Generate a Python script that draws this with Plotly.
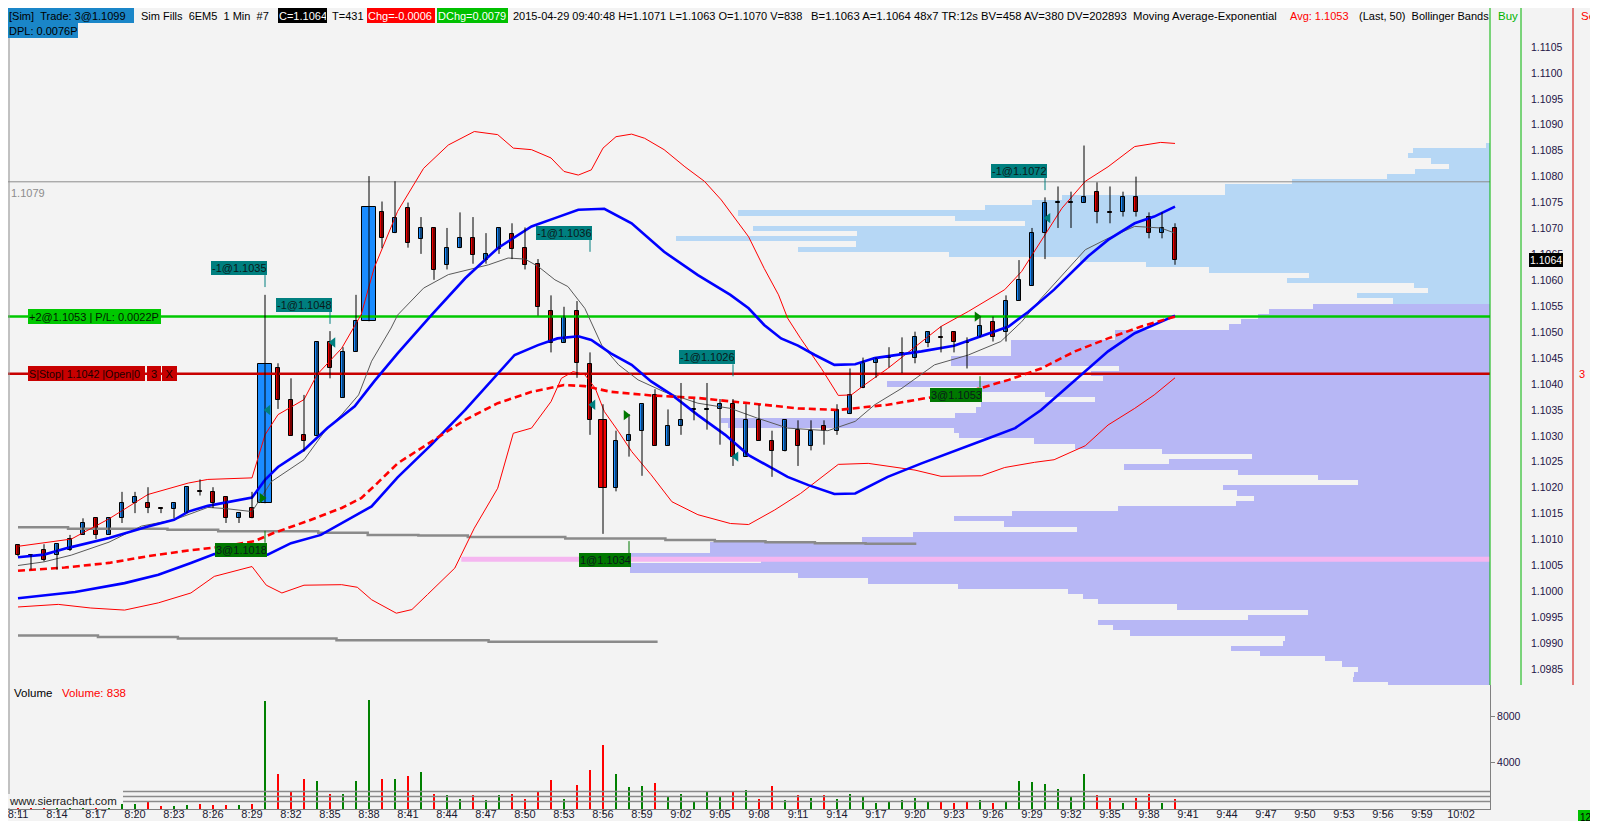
import pandas as pd
import plotly.graph_objects as go

W, H = 1598, 821
FONT = "Liberation Sans"

# ---------------- data ----------------
bar_start = "2015-04-29 08:11:00"

opens = [1.10090, 1.10071, 1.10080, 1.10071, 1.10080, 1.10109, 1.10141, 1.10109, 1.10141, 1.10170,
         1.10170, 1.10161, 1.10159, 1.10151, 1.10193, 1.10192, 1.10182, 1.10141, 1.10161, 1.10170,
         1.10431, 1.10370, 1.10301, 1.10300, 1.10481, 1.10373, 1.10462, 1.10521, 1.10731, 1.10691,
         1.10740, 1.10680, 1.10701, 1.10630, 1.10662, 1.10681, 1.10639, 1.10660, 1.10690, 1.10662,
         1.10631, 1.10540, 1.10480, 1.10540, 1.10439, 1.10330, 1.10200, 1.10291, 1.10310, 1.10379,
         1.10281, 1.10320, 1.10350, 1.10350, 1.10351, 1.10361, 1.10260, 1.10330, 1.10291, 1.10270,
         1.10312, 1.10281, 1.10320, 1.10310, 1.10342, 1.10392, 1.10440, 1.10450, 1.10458, 1.10451,
         1.10479, 1.10491, 1.10501, 1.10481, 1.10490, 1.10520, 1.10501, 1.10561, 1.10590, 1.10691,
         1.10749, 1.10749, 1.10750, 1.10771, 1.10732, 1.10731, 1.10760, 1.10722, 1.10691, 1.10700]
highs = [1.10091, 1.10071, 1.10091, 1.10091, 1.10109, 1.10141, 1.10141, 1.10141, 1.10192, 1.10192,
         1.10201, 1.10161, 1.10170, 1.10201, 1.10216, 1.10201, 1.10182, 1.10151, 1.10192, 1.10572,
         1.10440, 1.10411, 1.10379, 1.10481, 1.10502, 1.10471, 1.10572, 1.10801, 1.10752, 1.10791,
         1.10750, 1.10722, 1.10701, 1.10701, 1.10731, 1.10722, 1.10691, 1.10702, 1.10710, 1.10702,
         1.10641, 1.10571, 1.10549, 1.10560, 1.10461, 1.10361, 1.10310, 1.10342, 1.10361, 1.10390,
         1.10351, 1.10402, 1.10371, 1.10402, 1.10371, 1.10371, 1.10361, 1.10360, 1.10310, 1.10330,
         1.10330, 1.10330, 1.10330, 1.10361, 1.10430, 1.10451, 1.10451, 1.10471, 1.10490, 1.10501,
         1.10501, 1.10511, 1.10501, 1.10490, 1.10530, 1.10530, 1.10571, 1.10639, 1.10701, 1.10760,
         1.10781, 1.10771, 1.10860, 1.10789, 1.10781, 1.10771, 1.10800, 1.10731, 1.10731, 1.10710]
lows = [1.10068, 1.10042, 1.10058, 1.10042, 1.10078, 1.10109, 1.10101, 1.10109, 1.10132, 1.10151,
        1.10151, 1.10151, 1.10141, 1.10151, 1.10185, 1.10161, 1.10132, 1.10132, 1.10141, 1.10170,
        1.10352, 1.10300, 1.10270, 1.10300, 1.10411, 1.10373, 1.10462, 1.10521, 1.10662, 1.10691,
        1.10663, 1.10651, 1.10601, 1.10621, 1.10662, 1.10632, 1.10632, 1.10651, 1.10641, 1.10621,
        1.10532, 1.10461, 1.10480, 1.10412, 1.10302, 1.10111, 1.10193, 1.10260, 1.10223, 1.10281,
        1.10281, 1.10302, 1.10330, 1.10312, 1.10283, 1.10242, 1.10260, 1.10291, 1.10221, 1.10270,
        1.10242, 1.10272, 1.10283, 1.10302, 1.10342, 1.10392, 1.10412, 1.10432, 1.10421, 1.10440,
        1.10471, 1.10461, 1.10461, 1.10430, 1.10490, 1.10482, 1.10482, 1.10561, 1.10590, 1.10641,
        1.10701, 1.10701, 1.10750, 1.10710, 1.10710, 1.10723, 1.10723, 1.10681, 1.10681, 1.10630]
closes = [1.10071, 1.10070, 1.10061, 1.10091, 1.10101, 1.10132, 1.10109, 1.10141, 1.10170, 1.10182,
          1.10161, 1.10159, 1.10170, 1.10201, 1.10191, 1.10170, 1.10141, 1.10151, 1.10141, 1.10439,
          1.10370, 1.10300, 1.10291, 1.10481, 1.10431, 1.10462, 1.10521, 1.10741, 1.10682, 1.10721,
          1.10672, 1.10701, 1.10620, 1.10662, 1.10681, 1.10649, 1.10651, 1.10701, 1.10661, 1.10630,
          1.10548, 1.10479, 1.10530, 1.10440, 1.10330, 1.10200, 1.10291, 1.10301, 1.10361, 1.10281,
          1.10320, 1.10330, 1.10352, 1.10352, 1.10361, 1.10260, 1.10330, 1.10291, 1.10270, 1.10330,
          1.10281, 1.10310, 1.10310, 1.10350, 1.10379, 1.10440, 1.10450, 1.10452, 1.10460, 1.10490,
          1.10501, 1.10489, 1.10482, 1.10479, 1.10511, 1.10490, 1.10561, 1.10600, 1.10691, 1.10750,
          1.10751, 1.10751, 1.10760, 1.10731, 1.10730, 1.10760, 1.10731, 1.10691, 1.10701, 1.10640]
volumes = [320, 260, 410, 350, 300, 420, 380, 300, 435, 435,
           580, 203, 203, 290, 377, 290, 290, 290, 377, 9338,
           2958, 1450, 2523, 2349, 1247, 1247, 2349, 9425, 2552, 2552,
           2813, 3132, 1305, 1160, 870, 1160, 783, 1160, 1247, 812,
           1450, 2465, 870, 2030, 3335, 5510, 2958, 1827, 1943, 2175,
           1015, 1305, 580, 1450, 1015, 1450, 1595, 870, 1943, 725,
           1160, 957, 1218, 870, 1305, 1131, 522, 696, 783, 957,
           696, 696, 522, 696, 783, 522, 667, 2349, 2262, 2088,
           1653, 1131, 2958, 1218, 957, 522, 957, 1305, 522, 838]

# indicator lines: (minutes after 08:11, price)
bb_up_min = [0, 4.1, 7, 10, 13.1, 14.6, 18, 19, 20, 22, 23, 24.9, 26.4, 27.4, 29.2, 31.2, 33.1, 35.1,
             36.9, 38.1, 39.5, 41, 42, 43.1, 44.1, 45, 46, 47.2, 48.2, 49.7, 51.3, 52.8, 54.1, 56.2,
             57.4, 58.5, 59.2, 60.2, 61.8, 63.1, 64.1, 65.1, 66.9, 69, 71, 73.1, 74.6, 75.9, 77.2,
             78.2, 79.2, 80.3, 82.1, 83.85, 85.9, 87.9, 89]
bb_up = [1.10087, 1.10101, 1.10140, 1.10187, 1.10209, 1.10216, 1.10219, 1.10302, 1.10341, 1.10370,
         1.10418, 1.10469, 1.10534, 1.10624, 1.10733, 1.10816, 1.10861, 1.10887, 1.10881, 1.10855,
         1.10852, 1.10836, 1.10810, 1.10803, 1.10813, 1.10855, 1.10877, 1.10882, 1.10874, 1.10852,
         1.10819, 1.10791, 1.10755, 1.10684, 1.10623, 1.10572, 1.10527, 1.10488, 1.10430, 1.10378,
         1.10379, 1.10398, 1.10430, 1.10472, 1.10511, 1.10540, 1.10562, 1.10582, 1.10617, 1.10656,
         1.10694, 1.10739, 1.10791, 1.10819, 1.10858, 1.10866, 1.10864]
bb_lo_min = [0, 3.1, 5.6, 8.2, 10.8, 13.3, 15.1, 18, 19.1, 20.3, 22, 24.9, 26.1, 27.2, 29.1, 30.3,
             31.5, 33.6, 35.1, 36.9, 38.1, 39.5, 41, 41.8, 42.7, 43.6, 44.4, 45.1, 46.2, 47.2, 48.7,
             50.3, 52.3, 54.8, 56.2, 58.2, 60.2, 63.1, 65.4, 66.9, 69, 71, 74.1, 75.9, 78.2, 79.7,
             82.1, 83.85, 85.9, 87.4, 89]
bb_lo = [1.09970, 1.09975, 1.09968, 1.09964, 1.09978, 1.09997, 1.10029, 1.10048, 1.10012, 1.09997,
         1.10012, 1.10013, 1.10008, 1.09984, 1.09958, 1.09965, 1.09994, 1.10045, 1.10122, 1.10199,
         1.10305, 1.10315, 1.10366, 1.10411, 1.10424, 1.10418, 1.10392, 1.10347, 1.10308, 1.10270,
         1.10225, 1.10173, 1.10148, 1.10131, 1.10129, 1.10157, 1.10189, 1.10245, 1.10247, 1.10241,
         1.10234, 1.10222, 1.10223, 1.10239, 1.10249, 1.10254, 1.10281, 1.10321, 1.10353, 1.10379,
         1.10412]
env_up_min = [0, 2, 3.85, 7, 10, 12, 13.1, 14.6, 18, 19, 20, 22, 23.8, 25.9, 27.4, 29.2, 31.8, 34.4,
              36.9, 39.5, 41.3, 43.1, 45.1, 47.2, 49.7, 52.3, 54.8, 56.2, 57.4, 58.7, 60, 61.3, 62.8,
              64.4, 65.9, 69.5, 72, 74.1, 76.2, 77.7, 79.7, 82.3, 83.85, 85.9, 87.4, 89]
env_up = [1.10066, 1.10071, 1.10084, 1.10103, 1.10125, 1.10138, 1.10154, 1.10165, 1.10181, 1.10215,
          1.10240, 1.10273, 1.10315, 1.10357, 1.10405, 1.10459, 1.10533, 1.10604, 1.10662, 1.10704,
          1.10720, 1.10736, 1.10738, 1.10710, 1.10655, 1.10610, 1.10572, 1.10546, 1.10514, 1.10488,
          1.10474, 1.10456, 1.10437, 1.10438, 1.10450, 1.10463, 1.10474, 1.10492, 1.10511, 1.10539,
          1.10582, 1.10646, 1.10678, 1.10710, 1.10723, 1.10742]
env_lo_min = [0, 4.4, 8.2, 10.8, 13.3, 15.1, 19.2, 21, 23.3, 24.9, 27.2, 29.2, 31.8, 34.4, 36.9, 38.2,
              40, 41.5, 43.1, 44.1, 45.6, 47.2, 48.7, 50.3, 52.3, 54.4, 56.2, 58, 59.2, 60.8, 62.8,
              64.4, 66.9, 69.5, 72, 74.6, 76.7, 78.7, 80.3, 82.1, 83.85, 85.9, 87.4, 89]
env_lo = [1.09987, 1.09999, 1.10016, 1.10032, 1.10055, 1.10072, 1.10071, 1.10093, 1.10109, 1.10132,
          1.10164, 1.10220, 1.10283, 1.10350, 1.10421, 1.10456, 1.10475, 1.10488, 1.10492, 1.10485,
          1.10459, 1.10437, 1.10405, 1.10379, 1.10340, 1.10302, 1.10263, 1.10238, 1.10221, 1.10205,
          1.10188, 1.10189, 1.10221, 1.10247, 1.10270, 1.10295, 1.10315, 1.10350, 1.10385, 1.10424,
          1.10463, 1.10498, 1.10515, 1.10532]
mid_min = [0, 3.6, 7, 10, 13.1, 15.9, 18.2, 19.7, 22.3, 24.9, 26.4, 27.4, 29.2, 31.8, 34.4, 36.9,
           39.5, 42, 43.6, 45.6, 48.7, 52.3, 54.8, 57.4, 60, 63.1, 66.9, 70, 73.6, 76.2, 78.7, 81.3,
           83.85, 86.4, 89]
mid = [1.10040, 1.10046, 1.10055, 1.10068, 1.10079, 1.10087, 1.10097, 1.10113, 1.10136, 1.10161,
       1.10180, 1.10203, 1.10247, 1.10289, 1.10331, 1.10363, 1.10385, 1.10398, 1.10396, 1.10385,
       1.10378, 1.10373, 1.10367, 1.10360, 1.10353, 1.10350, 1.10360, 1.10373, 1.10389, 1.10408,
       1.10430, 1.10463, 1.10488, 1.10511, 1.10530]
ema_min = [0, 2, 4.1, 7, 9.5, 12, 14.6, 15.9, 18, 18.7, 19.5, 22, 23.6, 24.9, 26.2, 27.2, 28.7, 29.2,
           31.2, 33.1, 34.6, 36.2, 37.7, 39, 40, 41.3, 42.3, 43.6, 44.9, 46.2, 47.7, 49.7, 52.3, 54.8,
           56.9, 59.2, 62.3, 64.4, 65.9, 68, 70.5, 73.1, 75.6, 77.2, 78.7, 80.3, 82.1, 83.85, 85.9,
           87.9, 89]
ema = [1.10050, 1.10057, 1.10070, 1.10095, 1.10126, 1.10138, 1.10162, 1.10160, 1.10154, 1.10180,
       1.10212, 1.10254, 1.10309, 1.10341, 1.10379, 1.10444, 1.10508, 1.10533, 1.10585, 1.10611,
       1.10620, 1.10630, 1.10643, 1.10641, 1.10627, 1.10601, 1.10588, 1.10546, 1.10475, 1.10437,
       1.10408, 1.10385, 1.10363, 1.10353, 1.10334, 1.10315, 1.10310, 1.10328, 1.10360, 1.10392,
       1.10437, 1.10456, 1.10482, 1.10520, 1.10565, 1.10610, 1.10659, 1.10681, 1.10704, 1.10701,
       1.10691]
# stepped reference lines
step_a_min = [0, 3.85, 11.5, 15.4, 23.1, 26.9, 30.8, 34.6, 42.1, 49.8, 53.6, 57.5, 61.3, 65.2, 69.1]
step_a = [1.10124, 1.10121, 1.10119, 1.10116, 1.10113, 1.10109, 1.10108, 1.10105, 1.10102, 1.10099,
          1.10097, 1.10095, 1.10093, 1.10092, 1.10092]
step_b_min = [0, 6.15, 12.3, 24.5, 36.2, 49.2]
step_b = [1.09915, 1.09912, 1.09909, 1.09906, 1.09903, 1.09903]
pink_level, pink_from_min = 1.10062, 34.1
ref_level = 1.1079
pos_level = 1.1053
stop_level = 1.1042
last_price = 1.1064

# volume profile, one row per tick, from 1.1086 down to 1.0982
prof_top = 1.1086
prof_len = [4, 77, 82, 59, 41, 75, 103, 198, 265, 265,
            428, 458, 505, 752, 535, 465, 737, 633, 814, 634,
            692, 541, 410, 344, 281, 181, 203, 76, 62, 133,
            97, 177, 221, 232, 249, 261, 375, 375, 479, 479,
            479, 539, 539, 371, 399, 387, 603, 509, 445, 395,
            509, 514, 535, 769, 762, 536, 531, 456, 415, 328,
            238, 321, 366, 252, 172, 132, 267, 253, 236, 254,
            372, 478, 536, 486, 413, 577, 628, 780, 780, 874,
            729, 860, 860, 692, 622, 532, 422, 407, 392, 313,
            182, 242, 392, 377, 360, 205, 207, 259, 230, 165,
            148, 132, 136, 137, 102]
prof_split = 1.10555

# fills
fill_min = [19, 19, 24, 44, 47, 55, 74, 79]
fill_qty = [-1, 3, -1, -1, 1, -1, 3, -1]
fill_price = [1.1035, 1.1018, 1.1048, 1.1036, 1.1034, 1.1026, 1.1053, 1.1072]

vol_avg_levels = [1478, 1043, 609]

price_ticks = [round(1.0985 + 0.0005 * i, 4) for i in range(25)]

# ---------------- helpers ----------------
t0 = pd.Timestamp(bar_start)


def t(m):
    return t0 + pd.to_timedelta(m, unit="min")


def px(x):
    return x / W


def py(y):
    return 1 - y / H


PX_PER_MIN = 13.0
MS_PER_PX = 60000 / PX_PER_MIN
t_lo, t_hi = t(-10 / PX_PER_MIN), t(1472 / PX_PER_MIN)
times = [t(i) for i in range(len(opens))]

BLUE_BODY = "#1a8cff"
RED_BODY = "#f00000"
TEAL = "#007f7f"
GREEN_LBL = "#007800"

fig = go.Figure()

# volume profile (base axis x, reversed pixel-length scale)
prof_price = [round(prof_top - 0.0001 * i, 4) for i in range(len(prof_len))]
prof_col = ["#b6d7f5" if p > prof_split else "#b7b7f5" for p in prof_price]
fig.add_trace(go.Bar(x=prof_len, y=prof_price, orientation="h", width=0.0001,
                     marker=dict(color=prof_col, line=dict(width=0)),
                     xaxis="x", yaxis="y", hoverinfo="skip"))

# horizontal level lines
for lvl, col, wd in [(ref_level, "#8c8c8c", 1), (pos_level, "#00c800", 2.5), (stop_level, "#c80000", 2.5)]:
    fig.add_trace(go.Scatter(x=[t_lo, t_hi], y=[lvl, lvl], mode="lines", xaxis="x3", yaxis="y",
                             line=dict(color=col, width=wd), hoverinfo="skip"))
fig.add_trace(go.Scatter(x=[t(pink_from_min), t_hi], y=[pink_level] * 2, mode="lines", xaxis="x3",
                         yaxis="y", line=dict(color="#f5b6f0", width=5), hoverinfo="skip"))

# stepped gray lines
for mins, vals in [(step_a_min, step_a), (step_b_min, step_b)]:
    fig.add_trace(go.Scatter(x=[t(m) for m in mins], y=vals, mode="lines", line_shape="hv",
                             xaxis="x3", yaxis="y", line=dict(color="#8a8a8a", width=2.5),
                             hoverinfo="skip"))

# bands and averages
lines = [
    (bb_up_min, bb_up, dict(color="#ff0000", width=1)),
    (bb_lo_min, bb_lo, dict(color="#ff0000", width=1)),
    (ema_min, ema, dict(color="#5a5a5a", width=1)),
    (env_up_min, env_up, dict(color="#0000ff", width=2.6)),
    (env_lo_min, env_lo, dict(color="#0000ff", width=2.6)),
    (mid_min, mid, dict(color="#ff0000", width=2.6, dash="7px,4px")),
]
for mins, vals, ln in lines:
    fig.add_trace(go.Scatter(x=[t(m) for m in mins], y=vals, mode="lines", xaxis="x3", yaxis="y",
                             line=ln, hoverinfo="skip"))

# candles: wicks then bodies
wx, wy = [], []
for tm, lo, hi in zip(times, lows, highs):
    wx += [tm, tm, None]
    wy += [lo, hi, None]
fig.add_trace(go.Scatter(x=wx, y=wy, mode="lines", xaxis="x3", yaxis="y",
                         line=dict(color="black", width=1), hoverinfo="skip"))

body_lo = [min(o, c) for o, c in zip(opens, closes)]
body_h = [max(abs(c - o), 0.000012) for o, c in zip(opens, closes)]
body_col = [BLUE_BODY if c > o else RED_BODY for o, c in zip(opens, closes)]
body_w = [max(4.3, v * 0.00165 - 1.2) * MS_PER_PX for v in volumes]
fig.add_trace(go.Bar(x=times, y=body_h, base=body_lo, width=body_w, xaxis="x3", yaxis="y",
                     marker=dict(color=body_col, line=dict(color="black", width=1)),
                     hoverinfo="skip"))

# fill markers
off = 3 * MS_PER_PX / 60000
sx = [t(m + off) for m, q in zip(fill_min, fill_qty) if q < 0]
sy = [p for p, q in zip(fill_price, fill_qty) if q < 0]
bx = [t(m - off) for m, q in zip(fill_min, fill_qty) if q > 0]
by = [p for p, q in zip(fill_price, fill_qty) if q > 0]
fig.add_trace(go.Scatter(x=sx, y=sy, mode="markers", xaxis="x3", yaxis="y",
                         marker=dict(symbol="triangle-left", size=9, color=TEAL), hoverinfo="skip"))
fig.add_trace(go.Scatter(x=bx, y=by, mode="markers", xaxis="x3", yaxis="y",
                         marker=dict(symbol="triangle-right", size=9, color=GREEN_LBL), hoverinfo="skip"))

# volume panel
vol_col = ["#008000" if c > o else "#ff0000" for o, c in zip(opens, closes)]
fig.add_trace(go.Bar(x=times, y=volumes, width=2 * MS_PER_PX, xaxis="x2", yaxis="y2",
                     marker=dict(color=vol_col, line=dict(width=0)), hoverinfo="skip"))
for lv in vol_avg_levels:
    fig.add_trace(go.Scatter(x=[t(105 / PX_PER_MIN), t_hi], y=[lv, lv], mode="lines",
                             xaxis="x2", yaxis="y2", line=dict(color="#8a8a8a", width=1.5),
                             hoverinfo="skip"))

# ---------------- layout ----------------
x_dom = [0, px(1482)]
axis_font = dict(family=FONT, size=10.5, color="#231446")
fig.update_layout(
    width=W, height=H, margin=dict(l=0, r=0, t=0, b=0),
    paper_bgcolor="#f3f3f3", plot_bgcolor="#f3f3f3",
    showlegend=False, barmode="overlay", bargap=0,
    font=dict(family=FONT, size=11, color="black"),
    xaxis=dict(domain=x_dom, range=[1482, 0], visible=False, anchor="y", fixedrange=True),
    xaxis3=dict(overlaying="x", type="date", range=[t_lo, t_hi], visible=False, anchor="y"),
    yaxis=dict(domain=[py(677), 1], range=[1.1105 - 638 / 51850, 1.1105 + 39 / 51850],
               side="right", anchor="x", showgrid=False, zeroline=False, showline=False,
               ticks="", tickvals=price_ticks, ticktext=[f"{v:.4f}" for v in price_ticks],
               ticklabelstandoff=40, tickfont=axis_font),
    xaxis2=dict(domain=x_dom, anchor="y2", type="date", range=[t_lo, t_hi],
                tick0=t0, dtick=180000, tickformat="%-H:%M", ticks="outside", ticklen=5,
                ticklabelstandoff=-10, ticklabeloverflow="allow",
                tickcolor="#808080", showline=True, linecolor="#808080", showgrid=False,
                zeroline=False, tickfont=dict(family=FONT, size=11, color="#1a1a33")),
    yaxis2=dict(domain=[py(801), py(677)], anchor="x2", side="right", range=[-43, 10739],
                tickvals=[4000, 8000], ticks="outside", ticklen=4, tickcolor="#808080",
                showline=True, linecolor="#808080", showgrid=False, zeroline=False,
                tickfont=axis_font),
)

ann = []
shapes = []


def label(x, y, text, color="black", bg=None, size=11, xref="paper", yref="paper", **kw):
    d = dict(x=x, y=y, xref=xref, yref=yref, text=text, showarrow=False,
             font=dict(family=FONT, size=size, color=color), xanchor="left", yanchor="middle",
             borderpad=1, borderwidth=0, align="left")
    if bg:
        d["bgcolor"] = bg
    d.update(kw)
    ann.append(d)


NB = "\u00a0"
# header
r1, r2 = py(7.5), py(22)
label(px(0), r1, f"[Sim]{NB}{NB}Trade: 3@1.1099", bg="#1a86c8", width=124, height=13, borderpad=1)
label(px(132), r1, f"Sim Fills{NB}{NB}6EM5{NB}{NB}1 Min{NB}{NB}#7")
label(px(270), r1, "C=1.1064", color="white", bg="black", width=47, height=13)
label(px(323), r1, "T=431")
label(px(359), r1, "Chg=-0.0006", color="white", bg="#ff0000", width=66, height=13)
label(px(429), r1, "DChg=0.0079", color="white", bg="#00c000", width=69, height=13)
label(px(504), r1, "2015-04-29 09:40:48 H=1.1071 L=1.1063 O=1.1070 V=838")
label(px(802), r1, f"B=1.1063 A=1.1064 48x7 TR:12s BV=458 AV=380 DV=202893{NB}{NB}Moving Average-Exponential",
      size=11.3)
label(px(1281), r1, "Avg: 1.1053", color="#ff0000")
label(px(1350), r1, f"(Last, 50){NB}{NB}Bollinger Bands")
label(px(1489), r1, "Buy", color="#00b400", size=11.5)
label(px(1572), r1, "Sell", color="#ff0000", size=11.5)
label(px(0), r2, "DPL: 0.0076P", bg="#1a86c8", width=68, height=13)

# level labels
label(px(2), ref_level, "1.1079", color="#8c8c8c", yref="y", yshift=-11)
label(px(20), pos_level, "+2@1.1053 | P/L: 0.0022P", bg="#00c800", color="#001a00", yref="y",
      width=131, height=13)
label(px(20), stop_level, "S|Stop| 1.1042 |Open|0", bg="#c80000", color="#1a0000", yref="y",
      width=115, height=13, size=10.7)
label(px(139), stop_level, "3", bg="#c80000", color="#1a0000", yref="y", width=12, height=13,
      align="center")
label(px(154), stop_level, "X", bg="#c80000", color="#1a0000", yref="y", width=13, height=13,
      align="center")
label(px(1521), last_price, "1.1064", color="white", bg="black", yref="y", size=10.5)
label(px(1570), stop_level, "3", color="#ff0000", yref="y")

# fill labels with their ticks
sell_tip = {19: 1.10587, 24: 1.10516, 44: 1.10655, 55: 1.10415, 79: 1.10774}
buy_tip = {19: 1.10117, 47: 1.10097, 74: 1.10415}
for m, q, p in zip(fill_min, fill_qty, fill_price):
    txt = f"{q}@{p:.4f}"
    if q < 0:
        tip, col, y0, y1, ya, ys, wd = sell_tip[m], TEAL, 0, 12, "bottom", 12, 54
    else:
        tip, col, y0, y1, ya, ys, wd = buy_tip[m], GREEN_LBL, -12, 0, "top", -12, 50
    shapes.append(dict(type="line", xref="x3", yref="y", x0=t(m), x1=t(m), ysizemode="pixel",
                       yanchor=tip, y0=y0, y1=y1, line=dict(color=col, width=1)))
    label(t(m), tip, txt, color="#0a1a1a", bg=col, xref="x3", yref="y", size=11,
          xanchor="right", yanchor=ya, yshift=ys, xshift=2, width=wd, height=12)

# volume panel texts
label(px(5), py(685), "Volume", size=11.5)
label(px(53), py(685), "Volume: 838", color="#ff0000", size=11.5)
label(px(0), py(793), "www.sierrachart.com", bg="#f3f3f3", size=11.5, color="#222222")
label(px(1595), py(809), "12 E", bg="#00c000", size=10, xanchor="right", borderpad=2)

# frame lines of the trade columns and borders
for xp, col in [(1482, "#00b400"), (1513, "#00b400"), (1565, "#d00000"), (1596, "#d00000")]:
    shapes.append(dict(type="line", xref="paper", yref="paper", x0=px(xp), x1=px(xp),
                       y0=py(677), y1=1, line=dict(color=col, width=1)))
shapes.append(dict(type="line", xref="paper", yref="paper", x0=px(1), x1=px(1),
                   y0=py(801), y1=py(14), line=dict(color="#909090", width=1)))

fig.update_layout(annotations=ann, shapes=shapes)
fig.write_html("out.html")
